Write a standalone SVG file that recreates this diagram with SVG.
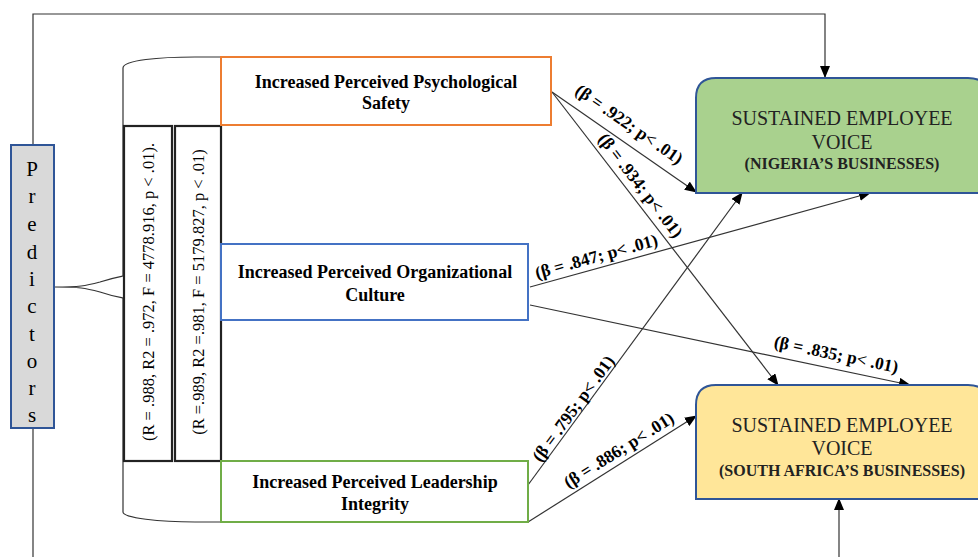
<svg xmlns="http://www.w3.org/2000/svg" width="978" height="557" viewBox="0 0 978 557">
<defs>
<marker id="ah" markerWidth="12" markerHeight="10" refX="11" refY="5" orient="auto" markerUnits="userSpaceOnUse">
<path d="M0,0 L12,5 L0,10 Z" fill="#000"/>
</marker>
<style>
.b{font-family:"Liberation Serif","Times New Roman",serif;font-weight:bold;font-size:18px;fill:#000;text-anchor:middle}
.r{font-family:"Liberation Serif","Times New Roman",serif;font-size:16.5px;fill:#000;text-anchor:middle}
.big{font-family:"Liberation Serif","Times New Roman",serif;font-size:20px;fill:#222;text-anchor:middle}
.sm{font-family:"Liberation Serif","Times New Roman",serif;font-weight:bold;font-size:16px;fill:#222;text-anchor:middle}
.pl{font-family:"Liberation Serif","Times New Roman",serif;font-size:21px;fill:#000;text-anchor:middle}
.ln{fill:none;stroke:#333;stroke-width:1.2}
.lbl{font-family:"Liberation Serif","Times New Roman",serif;font-weight:bold;font-size:17.5px;fill:#000;text-anchor:middle}
</style>
</defs>
<rect width="978" height="557" fill="#fff"/>

<g id="connectors">
<path class="ln" d="M33,145 V14 H825 V77" marker-end="url(#ah)"/>
<path class="ln" d="M33,428 V557"/>
<path class="ln" d="M839,557 V499" marker-end="url(#ah)"/>
<path class="ln" d="M54,287 C80,287 85,286 100,282 C112,278 118,277 123,276 M100,292 C112,296 118,297 123,298 M54,287 C80,287 85,288 100,292"/>
<path class="ln" d="M123,276 V68 C123,60 160,57 195,57 H221"/>
<path class="ln" d="M123,298 V512 C123,518 160,522 195,522 H221"/>
<line class="ln" x1="552" y1="92" x2="696" y2="192" marker-end="url(#ah)"/>
<line class="ln" x1="552" y1="92" x2="778" y2="385" marker-end="url(#ah)"/>
<line class="ln" x1="530" y1="287" x2="870" y2="193" marker-end="url(#ah)"/>
<line class="ln" x1="530" y1="305" x2="910" y2="385" marker-end="url(#ah)"/>
<line class="ln" x1="528" y1="485" x2="742" y2="193" marker-end="url(#ah)"/>
<line class="ln" x1="528" y1="522" x2="696" y2="416" marker-end="url(#ah)"/>
<text class="lbl" transform="translate(626,129) rotate(34.8)">(β = .922; p&lt; .01)</text>
<text class="lbl" transform="translate(636,189) rotate(52.4)">(β = .934; p&lt; .01)</text>
<text class="lbl" transform="translate(598,262) rotate(-15.5)">(β = .847; p&lt; .01)</text>
<text class="lbl" transform="translate(835,360) rotate(11.9)">(β = .835; p&lt; .01)</text>
<text class="lbl" transform="translate(578,412) rotate(-53.8)">(β = .795; p&lt; .01)</text>
<text class="lbl" transform="translate(622,455) rotate(-32.2)">(β = .886; p&lt; .01)</text>
</g>

<g id="predictors">
<rect x="11" y="145" width="43" height="283" fill="#d9d9d9" stroke="#2f5597" stroke-width="2"/>
<text class="pl" x="32" y="176">P</text>
<text class="pl" x="32" y="203">r</text>
<text class="pl" x="32" y="231">e</text>
<text class="pl" x="32" y="259">d</text>
<text class="pl" x="32" y="286">i</text>
<text class="pl" x="32" y="313">c</text>
<text class="pl" x="32" y="341">t</text>
<text class="pl" x="32" y="368">o</text>
<text class="pl" x="32" y="395">r</text>
<text class="pl" x="32" y="422">s</text>
</g>

<g id="stats1">
<rect x="124" y="126" width="48" height="335" fill="#fff" stroke="#222" stroke-width="2.2"/>
<text class="r" transform="translate(153.5,292) rotate(-90)">(R = .988, R2 = .972, F = 4778.916, p &lt; .01).</text>
</g>
<g id="stats2">
<rect x="175" y="126" width="46" height="335" fill="#fff" stroke="#222" stroke-width="2.2"/>
<text class="r" transform="translate(203.5,292) rotate(-90)">(R =.989, R2 =.981, F = 5179.827, p &lt; .01)</text>
</g>

<g id="psych">
<rect x="221" y="57" width="330" height="68" fill="#fff" stroke="#ed7d31" stroke-width="2"/>
<text class="b" x="386" y="88">Increased Perceived Psychological</text>
<text class="b" x="386" y="109">Safety</text>
</g>

<g id="culture">
<rect x="221" y="244" width="307" height="76" fill="#fff" stroke="#4472c4" stroke-width="2"/>
<text class="b" x="375" y="278">Increased Perceived Organizational</text>
<text class="b" x="375" y="301">Culture</text>
</g>

<g id="leadership">
<rect x="221" y="461" width="307" height="61" fill="#fff" stroke="#70ad47" stroke-width="2"/>
<text class="b" x="375" y="488">Increased Perceived Leadership</text>
<text class="b" x="375" y="510">Integrity</text>
</g>

<g id="nigeria">
<path d="M696,193 V98 Q696,78 716,78 H968 Q988,78 988,98 V193 Z" fill="#a9d18e" stroke="#2f5597" stroke-width="2"/>
<text class="big" x="842" y="125">SUSTAINED EMPLOYEE</text>
<text class="big" x="842" y="149">VOICE</text>
<text class="sm" x="842" y="169">(NIGERIA’S BUSINESSES)</text>
</g>

<g id="southafrica">
<path d="M696,499 V405 Q696,385 716,385 H968 Q988,385 988,405 V499 Z" fill="#ffe699" stroke="#2f5597" stroke-width="2"/>
<text class="big" x="842" y="432">SUSTAINED EMPLOYEE</text>
<text class="big" x="842" y="455">VOICE</text>
<text class="sm" x="842" y="476">(SOUTH AFRICA’S BUSINESSES)</text>
</g>
</svg>
